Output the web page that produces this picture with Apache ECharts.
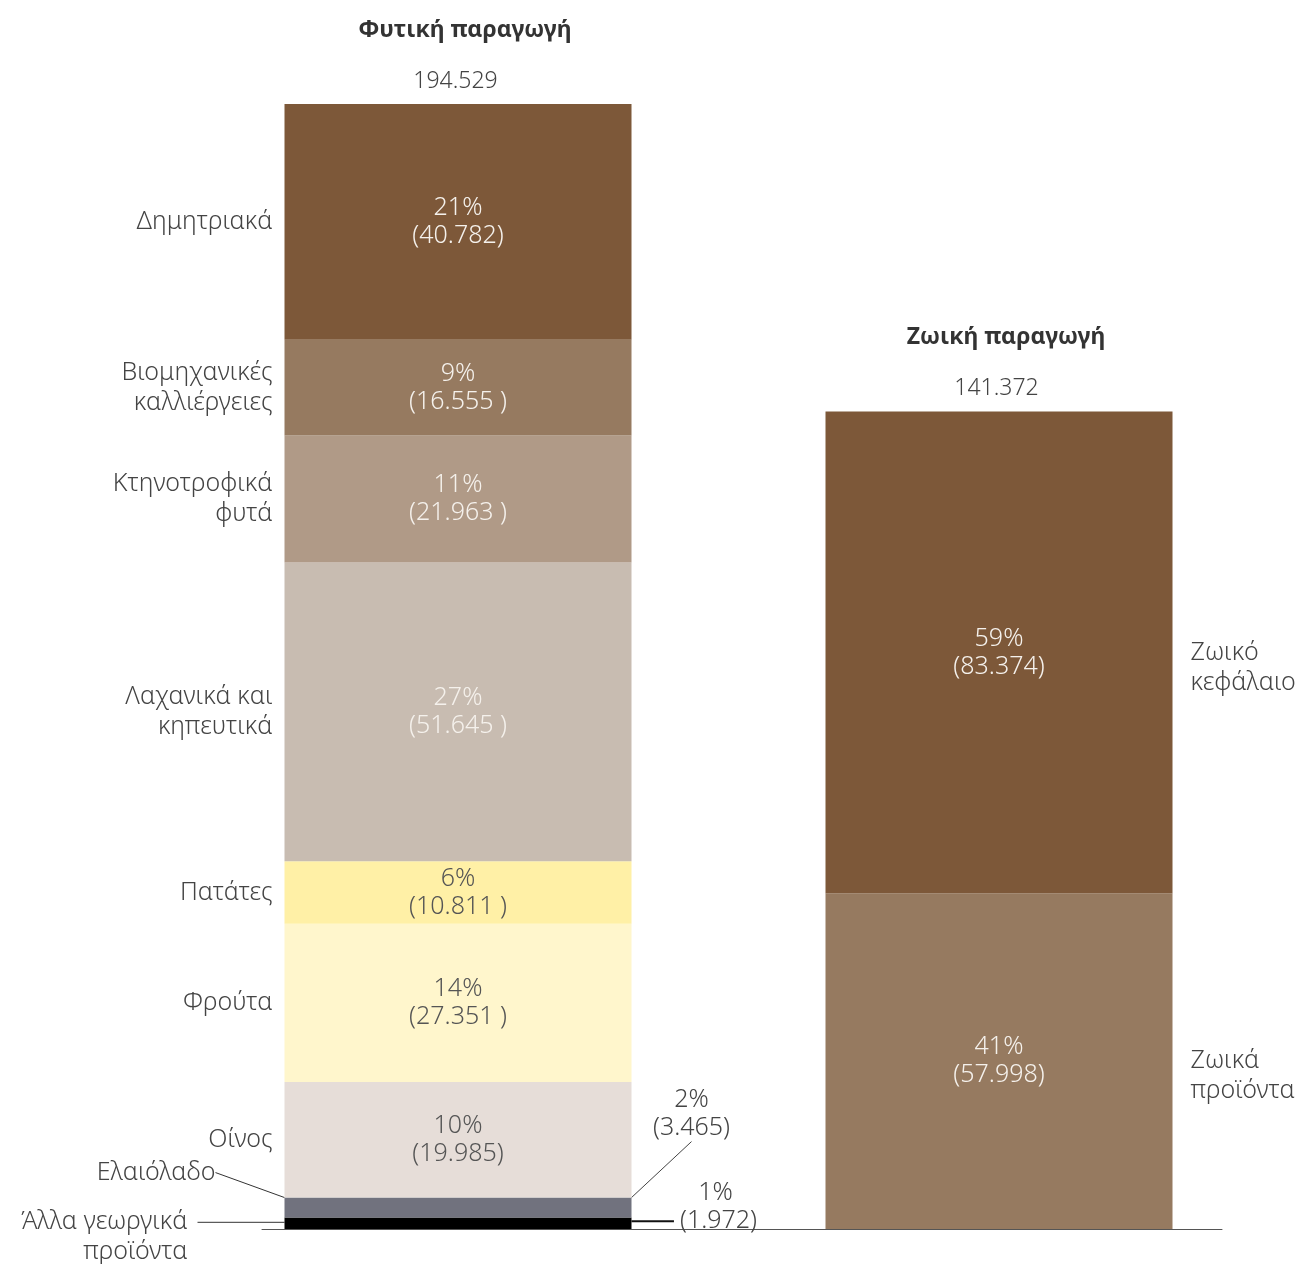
<!DOCTYPE html>
<html><head><meta charset="utf-8">
<script src="https://cdn.jsdelivr.net/npm/echarts@6/dist/echarts.min.js"></script>
<style>html,body{margin:0;padding:0;background:#fff}#c{width:1299px;height:1264px}</style>
</head><body><div id="c"></div>
<script>
// ---- data (bottom to top) ----
const categories = ['Φυτική παραγωγή', 'Ζωική παραγωγή'];
const plantNames = ['Άλλα γεωργικά\nπροϊόντα', 'Ελαιόλαδο', 'Οίνος', 'Φρούτα', 'Πατάτες',
  'Λαχανικά και\nκηπευτικά', 'Κτηνοτροφικά\nφυτά', 'Βιομηχανικές\nκαλλιέργειες', 'Δημητριακά'];
const plantValues = [1972, 3465, 19985, 27351, 10811, 51645, 21963, 16555, 40782];
const plantCloseGap = ['', '', '', ' ', ' ', ' ', ' ', ' ', ''];
const animalNames = ['Ζωικά\nπροϊόντα', 'Ζωικό\nκεφάλαιο'];
const animalValues = [57998, 83374];
const animalCloseGap = ['', ''];

// ---- styles ----
const plantColors = ['#000000', '#71727e', '#e6ddd8', '#fff6cc', '#fff0a6', '#c8bcb1', '#b09a87', '#967a60', '#7d5839'];
const plantTextColors = ['#444', '#444', '#555', '#555', '#555', '#f5f1ec', '#f5f1ec', '#f5f1ec', '#f5f1ec'];
const animalColors = ['#967a60', '#7d5839'];
const animalTextColors = ['#f5f1ec', '#f5f1ec'];

const FONT = "'Noto Sans', sans-serif";
const LBL = 25;
const fmt = n => String(n).replace(/\B(?=(\d{3})+(?!\d))/g, '.');
const sum = a => a.reduce((s, v) => s + v, 0);
const totals = [sum(plantValues), sum(animalValues)];

const BW = 347;
const series = [];
const TRANSPARENT = 'rgba(255,255,255,0)';
const baseLabel = (color, lh) => ({ show: true, color: color, fontFamily: FONT, fontWeight: 300, fontSize: LBL, lineHeight: lh });
const ghost = (name, stack, data, label, extra) => Object.assign({
  type: 'bar', name: name, stack: stack, barWidth: BW, barGap: '-100%', silent: true,
  data: data, itemStyle: { color: TRANSPARENT }, label: label
}, extra || {});

function addBar(catIdx, names, values, gaps, colors, textColors, total, side) {
  values.forEach((v, i) => {
    const pct = Math.round(v / total * 100);
    const data = categories.map((c, k) => (k === catIdx ? v : '-'));
    const pctText = pct + '%';
    const valText = '(' + fmt(v) + gaps[i] + ')';
    const nameLines = names[i].split('\n');

    // value bar with percentage label
    const valLabel = Object.assign(baseLabel(textColors[i], 28), {
      position: 'inside', align: 'center', formatter: () => pctText + '\n' + valText
    });
    const vs = {
      type: 'bar', name: names[i], stack: 'v', barWidth: BW, barGap: '-100%',
      data: data, itemStyle: { color: colors[i] }, label: valLabel, silent: true
    };
    // name label (transparent twin bar)
    const nameLabel = Object.assign(baseLabel('#444', 30), { formatter: () => names[i] });
    const ns = ghost(names[i] + ' ', 'n', data, nameLabel);

    if (side === 'left') {
      Object.assign(nameLabel, { position: 'left', distance: 12, align: 'right' });
      if (i === 1) {
        // Ελαιόλαδο: outside value label up-right, name label up-left, both with guide lines
        Object.assign(valLabel, { position: 'right', distance: 60 });
        vs.labelLayout = { dy: -94 };
        vs.labelLine = { show: true, lineStyle: { color: '#444', width: 1 } };
        ns.labelLayout = { dx: -57, dy: -35 };
        ns.labelLine = { show: true, lineStyle: { color: '#333', width: 1 } };
      }
      if (i === 0) {
        // Άλλα γεωργικά προϊόντα: horizontal guide lines on first name line / value line
        Object.assign(valLabel, { position: 'right', distance: 84, formatter: () => valText,
          padding: [0, 0, 0, 6], backgroundColor: TRANSPARENT });
        vs.labelLayout = { dy: -2 };
        vs.labelLine = { show: true, lineStyle: { color: '#111', width: 2 } };
        Object.assign(nameLabel, { distance: 87, formatter: () => nameLines[0],
          padding: [0, 10, 0, 0], backgroundColor: TRANSPARENT });
        ns.labelLayout = { dy: -1 };
        ns.labelLine = { show: true, lineStyle: { color: '#333', width: 1 } };
        series.push(ghost('rest-name', 'x1', data, Object.assign(baseLabel('#444', 30), {
          position: 'left', distance: 97, align: 'right', offset: [0, 29],
          formatter: () => nameLines.slice(1).join('\n')
        })));
        series.push(ghost('rest-pct', 'x2', data, Object.assign(baseLabel('#444', 28), {
          position: 'right', distance: 84, align: 'center', offset: [0, -30],
          formatter: () => pctText
        })));
      }
    } else {
      Object.assign(nameLabel, { position: 'right', distance: 18, align: 'left', offset: [0, 15] });
    }
    series.push(vs);
    series.push(ns);
  });
}

addBar(0, plantNames, plantValues, plantCloseGap, plantColors, plantTextColors, totals[0], 'left');
addBar(1, animalNames, animalValues, animalCloseGap, animalColors, animalTextColors, totals[1], 'right');

series.push({
  type: 'bar', name: 'totals', barWidth: BW, barGap: '-100%', silent: true,
  data: totals,
  itemStyle: { color: TRANSPARENT },
  label: {
    show: true, position: 'top', distance: 8,
    formatter: p => '{t|' + categories[p.dataIndex] + '}\n{v|' + fmt(totals[p.dataIndex]) + '}',
    rich: {
      t: { fontFamily: FONT, fontWeight: 'bold', fontSize: 23, color: '#333', lineHeight: 72, padding: [0, 0, 0, 14] },
      v: { fontFamily: FONT, fontWeight: 300, fontSize: 23, color: '#444', lineHeight: 30, padding: [0, 5, 0, 0] }
    }
  }
});

const chart = echarts.init(document.getElementById('c'), null, { renderer: 'canvas' });
chart.setOption({
  animation: false,
  backgroundColor: '#fff',
  grid: [
    { left: 187.5, right: 29.5, top: 104, bottom: 35 },
    { left: 262, right: 77, top: 104, bottom: 35 }
  ],
  xAxis: [
    { type: 'category', data: categories, gridIndex: 0, show: false },
    { type: 'value', gridIndex: 1, min: 0, max: 1,
      axisLine: { show: true, lineStyle: { color: '#555', width: 1 } },
      axisTick: { show: false }, axisLabel: { show: false }, splitLine: { show: false } }
  ],
  yAxis: [
    { type: 'value', gridIndex: 0, min: 0, max: 'dataMax', show: false, splitLine: { show: false } },
    { type: 'value', gridIndex: 1, min: 0, max: 1, show: false, splitLine: { show: false } }
  ],
  series: series
});
</script>
</body></html>
